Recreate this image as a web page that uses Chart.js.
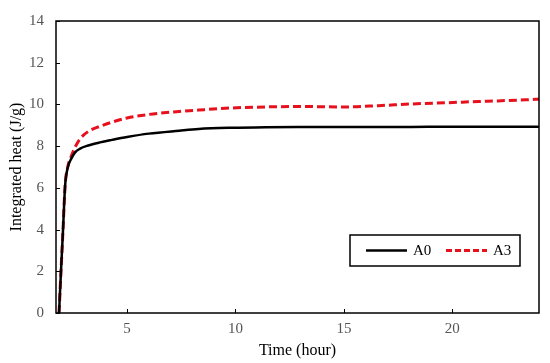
<!DOCTYPE html>
<html><head><meta charset="utf-8">
<script src="https://cdn.jsdelivr.net/npm/chart.js@4/dist/chart.umd.min.js"></script>
<style>html,body{margin:0;padding:0;background:#fff}#wrap{width:550px;height:363px}</style>
</head><body><div id="wrap"><canvas id="c" width="550" height="363"></canvas></div>
<script>
const timeHours = [1.86, 1.95, 2.04, 2.14, 2.27, 2.4, 2.6, 2.83, 3.2, 3.75, 4.3, 5.0, 6.0, 7.4, 8.3, 9.8, 11.4, 12.9, 15.1, 16.6, 18.1, 19.7, 21.2, 22.1, 24];
const heatA0 = [0, 2.0, 3.9, 6.1, 7.0, 7.35, 7.7, 7.88, 8.03, 8.18, 8.3, 8.44, 8.6, 8.74, 8.82, 8.88, 8.91, 8.92, 8.92, 8.92, 8.92, 8.93, 8.93, 8.93, 8.93];
const heatA3 = [0, 2.0, 3.9, 6.1, 7.05, 7.45, 7.95, 8.35, 8.7, 8.95, 9.15, 9.35, 9.52, 9.66, 9.73, 9.83, 9.88, 9.9, 9.88, 9.94, 10.02, 10.08, 10.14, 10.17, 10.25];
const xTicks = [5, 10, 15, 20];
const yTicks = [0, 2, 4, 6, 8, 10, 12, 14];
const seriesNames = ['A0', 'A3'];

const toPts = arr => timeHours.map((t, i) => ({x: t, y: arr[i]}));

const framePlugin = {
  id: 'frame',
  afterDraw(chart) {
    const {ctx, chartArea: a, scales: {x, y}} = chart;
    ctx.save();
    ctx.strokeStyle = '#000';
    ctx.lineWidth = 1.5;
    ctx.strokeRect(a.left, a.top, a.right - a.left, a.bottom - a.top);
    ctx.lineWidth = 1;
    xTicks.forEach(v => {
      const px = Math.round(x.getPixelForValue(v)) + 0.5;
      ctx.beginPath(); ctx.moveTo(px, a.bottom); ctx.lineTo(px, a.bottom - 4); ctx.stroke();
    });
    yTicks.forEach(v => {
      const py = Math.round(y.getPixelForValue(v)) + 0.5;
      ctx.beginPath(); ctx.moveTo(a.left, py); ctx.lineTo(a.left + 4, py); ctx.stroke();
    });
    // legend
    const lx = 350, ly = 235, lw = 170, lh = 31;
    ctx.fillStyle = '#fff';
    ctx.fillRect(lx, ly, lw, lh);
    ctx.lineWidth = 1.5;
    ctx.strokeRect(lx, ly, lw, lh);
    const cy = ly + lh / 2;
    const ds = chart.data.datasets;
    const items = [{x0: 366, x1: 407, tx: 413}, {x0: 446, x1: 487, tx: 493}];
    items.forEach((it, i) => {
      ctx.beginPath();
      ctx.strokeStyle = ds[i].borderColor;
      ctx.lineWidth = ds[i].borderWidth;
      ctx.setLineDash(i === 1 ? [6, 3] : []);
      ctx.moveTo(it.x0, cy); ctx.lineTo(it.x1, cy); ctx.stroke();
      ctx.setLineDash([]);
      ctx.fillStyle = '#000';
      ctx.font = '15px "Liberation Serif"';
      ctx.textBaseline = 'middle';
      ctx.textAlign = 'left';
      ctx.fillText(ds[i].label, it.tx, cy + 1);
    });
    ctx.restore();
  }
};

new Chart(document.getElementById('c'), {
  type: 'line',
  data: {
    datasets: [
      {label: seriesNames[0], data: toPts(heatA0), borderColor: '#000000', borderWidth: 2.5, pointRadius: 0, cubicInterpolationMode: 'monotone', fill: false},
      {label: seriesNames[1], data: toPts(heatA3), borderColor: '#e8101c', borderWidth: 3, borderDash: [8, 4], pointRadius: 0, cubicInterpolationMode: 'monotone', fill: false}
    ]
  },
  options: {
    responsive: false,
    animation: false,
    layout: {padding: {left: 0, top: 14, right: 11, bottom: 0}},
    plugins: {legend: {display: false}, tooltip: {enabled: false}},
    scales: {
      x: {
        type: 'linear', min: 1.72, max: 24,
        afterBuildTicks: s => { s.ticks = xTicks.map(v => ({value: v})); },
        afterFit: s => { s.height = 50; },
        grid: {display: false, drawTicks: false},
        border: {display: false},
        ticks: {color: '#555', font: {family: 'Liberation Serif', size: 15}, padding: 7, maxRotation: 0},
        title: {display: true, text: 'Time (hour)', color: '#000', font: {family: 'Liberation Serif', size: 16}, padding: {top: 2, bottom: 3}}
      },
      y: {
        min: 0, max: 14,
        afterBuildTicks: s => { s.ticks = yTicks.map(v => ({value: v})); },
        afterFit: s => { s.width = 56; },
        grid: {display: false, drawTicks: false},
        border: {display: false},
        ticks: {color: '#555', font: {family: 'Liberation Serif', size: 15}, padding: 12},
        title: {display: true, text: 'Integrated heat (J/g)', color: '#000', font: {family: 'Liberation Serif', size: 16}, padding: {top: 7, bottom: 2}}
      }
    }
  },
  plugins: [framePlugin]
});
</script></body></html>
